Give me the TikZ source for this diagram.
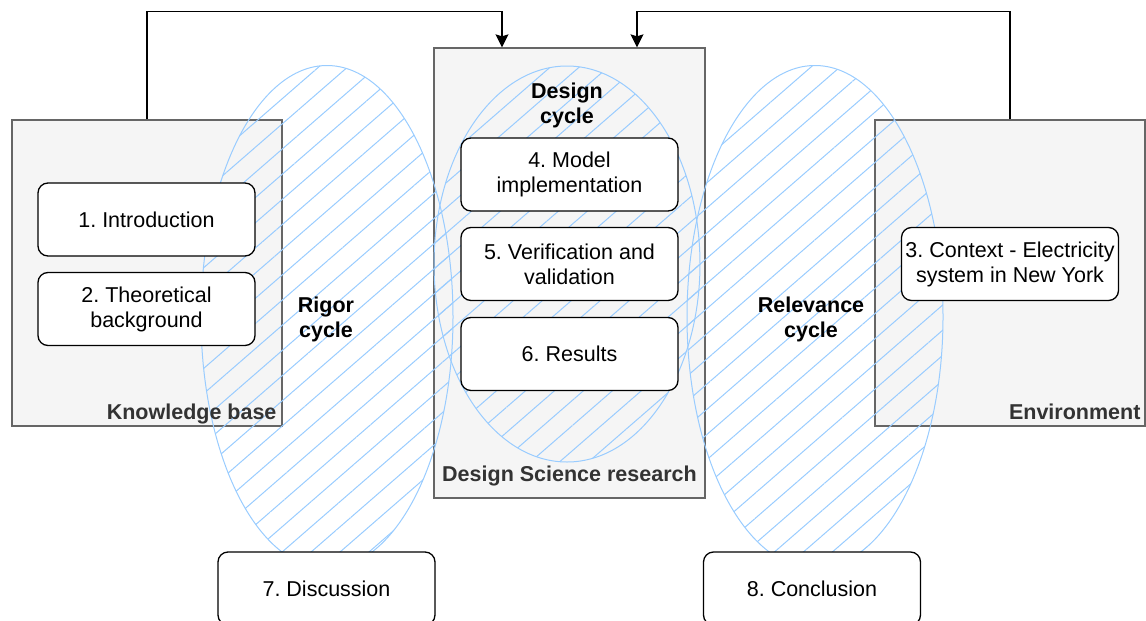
\documentclass[tikz,border=0pt]{standalone}
\usepackage{fontspec}
\setmainfont{Liberation Sans}
\usetikzlibrary{shapes.geometric, patterns.meta, arrows.meta}
\frenchspacing

\definecolor{boxgray}{HTML}{F5F5F5}
\definecolor{edgegray}{HTML}{666666}
\definecolor{labelgray}{HTML}{333333}
\definecolor{cycleblue}{HTML}{99CCFF}

\begin{document}
\begin{tikzpicture}[x=1pt, y=-1pt,
    every node/.style={font=\fontsize{21.5}{25}\selectfont},
    area/.style={draw=edgegray, fill=boxgray, line width=1.3pt, inner sep=0pt},
    cyc/.style={ellipse, draw=cycleblue, line width=1pt, inner sep=0pt,
        pattern={Lines[angle=41, distance=19pt, line width=1pt]}, pattern color=cycleblue},
    chapter/.style={draw, fill=white, rounded corners=10pt, line width=1.3pt,
        minimum width=217pt, minimum height=73pt, inner sep=0pt, align=center},
    arealabel/.style={text=labelgray, font=\fontsize{21.5}{25}\selectfont\bfseries},
    cyclabel/.style={align=center, font=\fontsize{21.5}{25}\selectfont\bfseries},
    arr/.style={-{Stealth[length=13pt, width=13pt, inset=2pt]}, line width=1.3pt}]
    \useasboundingbox (0,0) rectangle (1146,621);
    \clip (0,0) rectangle (1146,621);

    % containers
    \node[area, minimum width=270pt, minimum height=306pt] (kb) at (147,273) {};
    \node[area, minimum width=271pt, minimum height=450pt] (dsr) at (569.5,273) {};
    \node[area, minimum width=270pt, minimum height=306pt] (env) at (1010,273) {};

    % cycles
    \node[cyc, minimum width=252pt, minimum height=503pt] (rigor) at (327,317) {};
    \node[cyc, minimum width=266pt, minimum height=396pt] (design) at (567,264) {};
    \node[cyc, minimum width=256pt, minimum height=503pt] (relevance) at (815,317) {};

    % chapters
    \node[chapter] (intro) at (146.5,219.5) {1. Introduction};
    \node[chapter] (theory) at (146.5,309) {2. Theoretical\\background};
    \node[chapter] (model) at (569.5,174.5) {4. Model\\implementation};
    \node[chapter] (verif) at (569.5,264) {5. Verification and\\validation};
    \node[chapter] (results) at (569.5,354) {6. Results};
    \node[chapter] (context) at (1010,264) {3. Context - Electricity\\system in New York};
    \node[chapter] (discussion) at (326.5,588.5) {7. Discussion};
    \node[chapter] (conclusion) at (812,588.5) {8. Conclusion};

    % labels
    \node[cyclabel] (designlbl) at (567,105) {Design\\cycle};
    \node[cyclabel] (rigorlbl) at (326,319) {Rigor\\cycle};
    \node[cyclabel] (relevancelbl) at (811,319) {Relevance\\cycle};
    \node[arealabel, anchor=base east, inner sep=0pt] (kblbl) at ([xshift=-6pt, yshift=7pt]kb.south east) {Knowledge base};
    \node[arealabel, anchor=base, inner sep=0pt] (dsrlbl) at ([yshift=17pt]dsr.south) {Design Science research};
    \node[arealabel, anchor=base east, inner sep=0pt] (envlbl) at ([xshift=-5pt, yshift=7pt]env.south east) {Environment};

    % feedback arrows
    \draw[arr] (kb.north) -- ++(0,-108) -| ([xshift=-67.5pt]dsr.north);
    \draw[arr] (env.north) -- ++(0,-108) -| ([xshift=67.5pt]dsr.north);
\end{tikzpicture}
\end{document}
